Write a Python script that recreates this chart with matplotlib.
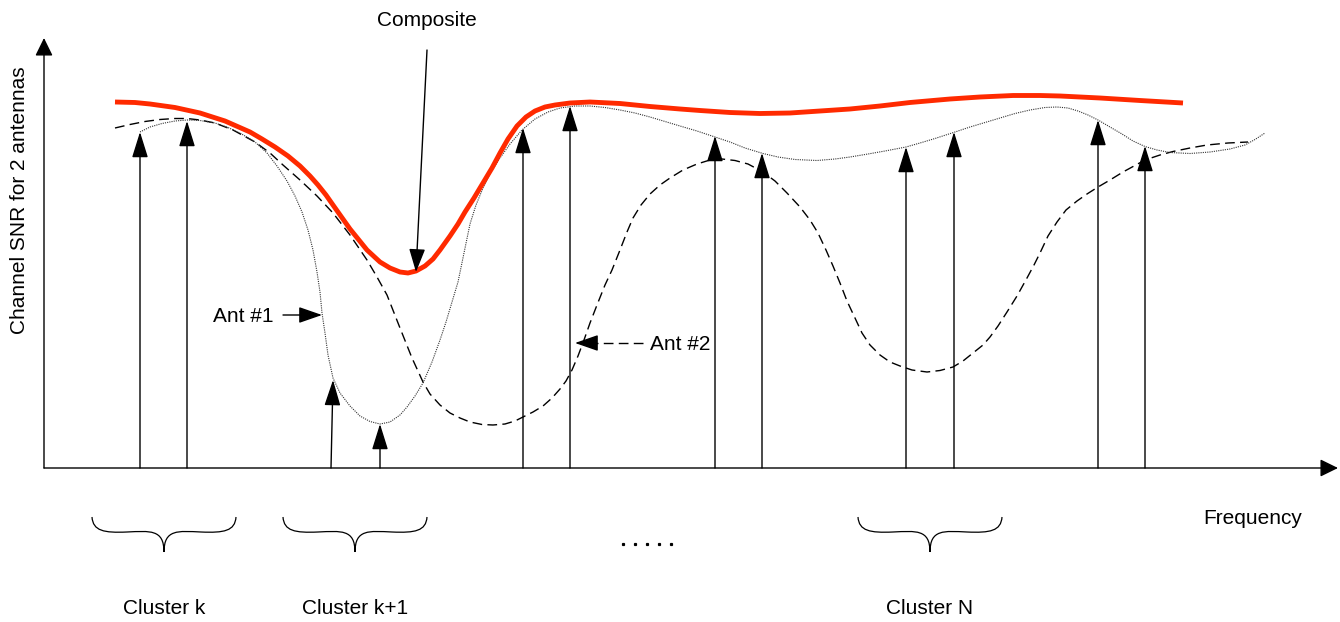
import matplotlib
matplotlib.use('Agg')
import matplotlib.pyplot as plt
from matplotlib.path import Path
from matplotlib.patches import PathPatch

plt.rcParams['font.family'] = ['Liberation Sans', 'DejaVu Sans']

# everything in pixel units (y grows downwards)
composite_x = [115, 135, 150, 175, 200, 225, 250, 262, 275, 288, 300, 310, 318, 326, 333,
               350, 367, 380, 390,
               400, 408, 416, 425, 433, 440, 450, 458, 465, 474, 483, 492, 500, 508, 517,
               526, 535, 545, 555, 570, 590, 620, 650, 680, 700, 730, 760, 790, 820, 850,
               880, 910, 950, 980, 1013, 1040, 1060, 1100, 1140, 1183]
composite_y = [102, 102.5, 104, 107.5, 113, 121, 132, 139, 147, 156, 166, 176, 185, 195, 205,
               229, 250, 262, 268,
               272, 273, 271, 266, 259, 250, 236, 224, 212, 198, 183, 168, 153, 139, 126,
               117, 111, 107, 105, 103, 102, 103.5, 106.5, 109, 110.5, 112.5, 113.5, 113, 111, 109,
               106, 102.5, 99, 97, 95.5, 95.5, 96, 98, 100.5, 103]

ant1_x = [140, 150, 162, 175, 187, 200, 215, 228, 240, 255, 267, 277, 287, 295, 302, 308,
          313, 317, 320, 322, 325, 328, 333, 340, 350, 360, 370, 380, 390, 400, 407, 415,
          423, 432, 440, 446, 452, 458, 464, 470, 476, 483, 491, 500, 510, 522, 535, 548,
          560, 575, 590, 605, 620, 635, 650, 665, 680, 697, 715, 730, 745, 763, 778, 795,
          817, 835, 850, 868, 885, 906, 920, 935, 955, 970, 985, 1000, 1015, 1030, 1045,
          1057, 1068, 1078, 1088, 1098, 1110, 1122, 1133, 1145, 1157, 1170, 1190, 1210,
          1230, 1245, 1255, 1265]
ant1_y = [132, 127, 123.5, 121, 120, 120.5, 123, 127.5, 133, 142, 153, 166, 181, 196, 212, 230,
          250, 272, 292, 313, 333, 355, 378, 393, 406, 416, 421.5, 424, 422, 415, 407, 396,
          383, 362, 340, 322, 302, 282, 253, 224, 205, 188, 172, 158, 144, 130, 119, 112,
          108, 106, 106, 107.5, 110, 113, 117, 121.5, 126, 131, 137, 142, 148, 153.5, 157, 159.5,
          160.5, 159, 157, 154, 151, 147, 143, 138.5, 132, 127, 122.5, 118, 113.5, 110, 107.5,
          107, 108, 111, 115, 120, 127, 134, 141, 146.5, 150, 152.5, 153.5, 152,
          149, 145, 139.5, 133]

ant2_x = [115, 130, 145, 160, 175, 187, 200, 215, 233, 255, 270, 283, 300, 317, 333, 350,
          367, 377, 387, 400, 412, 423, 430, 440, 450, 460, 470, 482, 493, 505, 515, 523,
          533, 543, 552, 560, 566, 572, 578, 584, 590, 597, 605, 612, 620, 627, 633, 641,
          650, 660, 670, 683, 697, 710, 722, 735, 748, 763, 775, 787, 800, 810, 818, 826,
          833, 840, 847, 855, 862, 870, 880, 890, 900, 912, 927, 940, 953, 963, 973, 983,
          990, 998, 1007, 1017, 1027, 1034, 1040, 1048, 1057, 1066, 1077, 1087, 1098, 1110,
          1123, 1134, 1145, 1160, 1173, 1190, 1207, 1228, 1248]
ant2_y = [128, 124.5, 121.5, 119.5, 118.5, 118.5, 120, 123, 130, 142, 153, 165, 180, 196, 213, 235,
          260, 277, 295, 328, 358, 382, 394, 405, 413, 418, 422, 424.5, 425, 424, 421, 417,
          412, 406, 398, 389, 381, 370, 356, 340, 323, 305, 285, 270, 250, 232, 218, 205,
          194, 185, 178, 170, 164, 160, 159, 160.5, 164, 172, 181, 193, 207, 220, 233, 250,
          266, 283, 301, 318, 333, 345, 355, 362, 366, 370, 372, 370.5, 367, 361, 353, 345,
          337, 326, 312, 296, 278, 265, 253, 236, 222, 210, 201, 194, 187, 180,
          172, 166, 160, 155, 151.5, 148, 145, 143, 142]

tone_x = [140, 187, 331, 380, 523, 570, 715, 762, 906, 954, 1098, 1145]
tone_tip_x = [140, 187, 333, 380, 523, 570, 715, 762, 906, 954, 1098, 1145]
tone_tip_y = [132, 121, 380, 424, 128, 106, 136, 153, 147, 132, 120, 146]

cluster_names = ['Cluster k', 'Cluster k+1', 'Cluster N']
cluster_left = [92, 283, 858]
cluster_right = [236, 427, 1002]
dots_x = [623, 635, 647, 659, 671]

x0, y0 = 44, 468          # origin of the sketch axes
brace_top, label_y = 517, 608

fig = plt.figure(figsize=(13.4, 6.22), dpi=100)
ax = fig.add_axes([0, 0, 1, 1])
ax.set_xlim(0, 1340); ax.set_ylim(622, 0); ax.axis('off')


def arrow(xa, ya, xb, yb, hl=0.8, hw=0.25, lw=1.0):
    ax.annotate('', xy=(xb, yb), xytext=(xa, ya),
                arrowprops=dict(arrowstyle='-|>,head_length=%s,head_width=%s' % (hl, hw),
                                mutation_scale=20, lw=lw, color='black',
                                shrinkA=0, shrinkB=0))


# axes
arrow(x0, y0, x0, 38, hl=0.55, hw=0.27)
arrow(x0, y0, 1338, y0, hl=0.55, hw=0.27)

# curves
ax.plot(ant2_x, ant2_y, color='black', lw=1.0, linestyle=(0, (7, 3.8)))
ax.plot(ant1_x, ant1_y, color='#333333', lw=0.8, linestyle=(0, (1, 1)))
ax.plot(composite_x, composite_y, color='#ff2a00', lw=3.5, solid_capstyle='butt',
        solid_joinstyle='round')

# tones
for xb, xt, yt in zip(tone_x, tone_tip_x, tone_tip_y):
    arrow(xb, y0, xt, yt)

# labels
ax.text(427, 21, 'Composite', fontsize=15, ha='center', va='center')
arrow(427, 50, 416, 272, hl=0.72)
ax.text(213, 317, 'Ant #1', fontsize=15, ha='left', va='center')
arrow(283, 315, 322, 315, hl=0.72)
ax.text(650, 345, 'Ant #2', fontsize=15, ha='left', va='center')
ax.plot([643, 594], [343, 343], color='black', lw=1.0, linestyle=(0, (7, 3.8)))
arrow(596, 343, 575, 343, hl=0.72)
ax.text(1253, 519, 'Frequency', fontsize=15, ha='center', va='center')
ax.text(20, 200, 'Channel SNR for 2 antennas', fontsize=15, rotation=90,
        ha='center', va='center')

# cluster braces
for name, left, right in zip(cluster_names, cluster_left, cluster_right):
    cx = (left + right) / 2
    t = brace_top
    verts = [(left, t), (left + 1, t + 14), (left + 12, t + 16), (left + 35, t + 15),
             (left + 58, t + 14), (cx, t + 12), (cx, t + 35),
             (cx, t + 12), (right - 58, t + 14), (right - 35, t + 15),
             (right - 12, t + 16), (right - 1, t + 14), (right, t)]
    codes = [Path.MOVETO] + [Path.CURVE4] * 12
    ax.add_patch(PathPatch(Path(verts, codes), fill=False, lw=0.9, edgecolor='black'))
    ax.text(cx, label_y, name, fontsize=15, ha='center', va='center')

ax.plot(dots_x, [544] * len(dots_x), linestyle='none', marker='s', markersize=1.3,
        color='black')

plt.savefig('out.png', dpi=100)
